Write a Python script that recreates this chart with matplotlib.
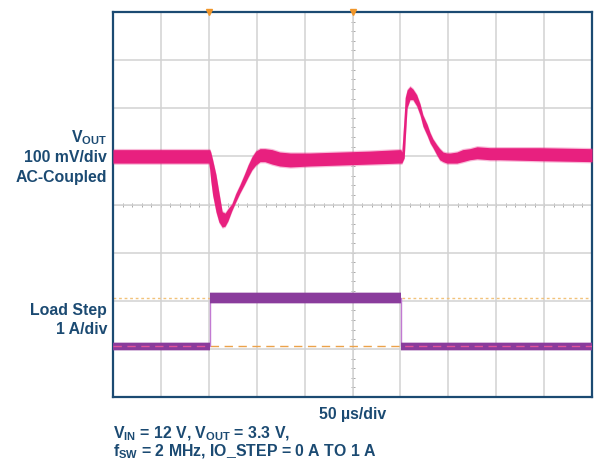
import matplotlib
matplotlib.use("Agg")
import matplotlib.pyplot as plt
import numpy as np

plt.rcParams['font.family'] = ['Liberation Sans', 'DejaVu Sans']
plt.rcParams['mathtext.fontset'] = 'custom'
plt.rcParams['mathtext.rm'] = 'Liberation Sans:bold'
plt.rcParams['mathtext.bf'] = 'Liberation Sans:bold'

# VOUT trace (AC-coupled), envelope of the noisy band: time in us, mV
vout_t = [0, 49, 100, 101, 102, 104, 107.5, 110.5, 114, 117, 120, 124, 128, 132.5,
          137, 141, 145, 149, 153.5, 158.5, 166, 174, 185, 205.5, 237, 268, 298.5,
          300.5, 301.5, 304, 305, 307, 310, 313, 317, 320.5, 323.5, 328, 331, 334,
          338, 341, 344.5, 348.5, 352, 359, 365, 372.5, 380, 393.5, 404, 445.5, 500]
vout_hi = [14, 14, 14, 14, 9, -7, -38, -74, -115, -118, -109, -99, -78, -59,
           -38, -18, -1, 11, 16, 16, 14, 9, 7, 7, 9, 11, 14,
           14, 9, 86, 122, 138, 145, 140, 128, 109, 86, 66, 49, 36,
           24, 16, 9, 7, 7, 9, 14, 16, 20, 18, 18, 18, 16]
vout_lo = [-14, -14, -14, -28, -49, -80, -115, -136, -147, -145, -134, -113, -95, -76,
           -59, -43, -28, -18, -11, -11, -16, -20, -22, -20, -18, -16, -14,
           -14, -14, -3, 34, 101, 118, 118, 105, 86, 63, 43, 28, 18,
           3, -7, -11, -14, -14, -14, -11, -7, -5, -7, -7, -9, -11]

# load current trace: time in us, A
load_t = [0, 101, 101, 300.5, 300.5, 500]
load_lvl = [0, 0, 1, 1, 0, 0]
load_hi = [0.08, 0.08, 1.11, 1.11, 0.08, 0.08]
load_lo = [-0.08, -0.08, 0.9, 0.9, -0.08, -0.08]

vout_off = 1.0      # screen division of the VOUT baseline
load_off = -2.95    # screen division of 0 A
mv_per_div = 100
a_per_div = 1

navy = '#1b4a72'
pink = '#e8207f'
purple = '#8a3c9c'

fig = plt.figure(figsize=(5.95, 4.62), dpi=100)
ax = fig.add_axes([113 / 595, 1 - 397 / 462, 479 / 595, 385 / 462])
ax.set_xlim(0, 500)
ax.set_ylim(-4, 4)
ax.set_xticks(np.arange(0, 501, 50))
ax.set_yticks(np.arange(-4, 4.1, 1))
ax.tick_params(length=0, labelbottom=False, labelleft=False)
ax.grid(True, color='#d2d2d2', lw=1.1)
for s in ax.spines.values():
    s.set_color(navy)
    s.set_linewidth(1.6)

# centre lines with minor ticks
ax.axhline(0, color='white', lw=1.5, zorder=1)
ax.axvline(250, color='white', lw=1.5, zorder=1)
ax.axhline(0, color='#e2e2e2', lw=0.7, zorder=1)
ax.axvline(250, color='#e2e2e2', lw=0.7, zorder=1)
mx = np.arange(10, 500, 10)
ax.plot(mx, np.zeros_like(mx), ls='none', marker='|', ms=3.5, mew=0.7, color='#a8a8a8', zorder=1)
my = np.arange(-3.8, 4, 0.2)
ax.plot(np.full_like(my, 250), my, ls='none', marker='_', ms=3.5, mew=0.7, color='#a8a8a8', zorder=1)

# cursor lines
ax.axhline(load_off + 1, color='#f2c27a', lw=1, ls=(0, (2, 2)), zorder=2)
ax.axhline(load_off, color='#eba24a', lw=1, ls=(0, (6, 4)), zorder=2)

# VOUT band
vt = np.array(vout_t)
vh = vout_off + np.array(vout_hi) / mv_per_div
vl = vout_off + np.array(vout_lo) / mv_per_div
ax.fill_between(vt, vh + 0.025, vl - 0.025, color=pink, alpha=0.3, lw=0, zorder=3)
ax.fill_between(vt, vh, vl, color=pink, lw=0, zorder=4)

# load band
lt = np.array(load_t)
lh = load_off + np.array(load_hi) / a_per_div
ll = load_off + np.array(load_lo) / a_per_div
ax.plot(lt, load_off + np.array(load_lvl) / a_per_div, color='#c27ad2', lw=1, zorder=3)
ax.fill_between(lt, lh + 0.02, ll - 0.02, color=purple, alpha=0.35, lw=0, zorder=3)
band = ax.fill_between(lt, lh, ll, color=purple, lw=0, zorder=4)
dash = ax.axhline(load_off, color='#e0559a', lw=1, ls=(0, (6, 4)), zorder=5)
dash.set_clip_path(band.get_paths()[0], ax.transData)

# trigger markers on top edge
ax.plot([100, 250], [4, 4], ls='none', marker='v', ms=4, color='#f0962a',
        clip_on=False, zorder=6)

# labels
tk = dict(color=navy, fontsize=11.4, fontweight='bold')
fig.text(107 / 595, 1 - 138 / 462, r"V$_{\mathrm{OUT}}$", ha='right', va='center', **tk)
fig.text(107 / 595, 1 - 157 / 462, "100 mV/div", ha='right', va='center', **tk)
fig.text(107 / 595, 1 - 177 / 462, "AC-Coupled", ha='right', va='center', **tk)
fig.text(107 / 595, 1 - 311 / 462, "Load Step", ha='right', va='center', **tk)
fig.text(107 / 595, 1 - 329 / 462, "1 A/div", ha='right', va='center', **tk)
fig.text(353 / 595, 1 - 414 / 462, "50 µs/div", ha='center', va='center', **tk)
fig.text(113 / 595, 1 - 434 / 462, r"V$_{\mathrm{IN}}$ = 12 V, V$_{\mathrm{OUT}}$ = 3.3 V,",
         ha='left', va='center', **tk)
fig.text(113 / 595, 1 - 452 / 462, r"f$_{\mathrm{SW}}$ = 2 MHz, IO_STEP = 0 A TO 1 A",
         ha='left', va='center', **tk)

fig.savefig("out.png", dpi=100)
